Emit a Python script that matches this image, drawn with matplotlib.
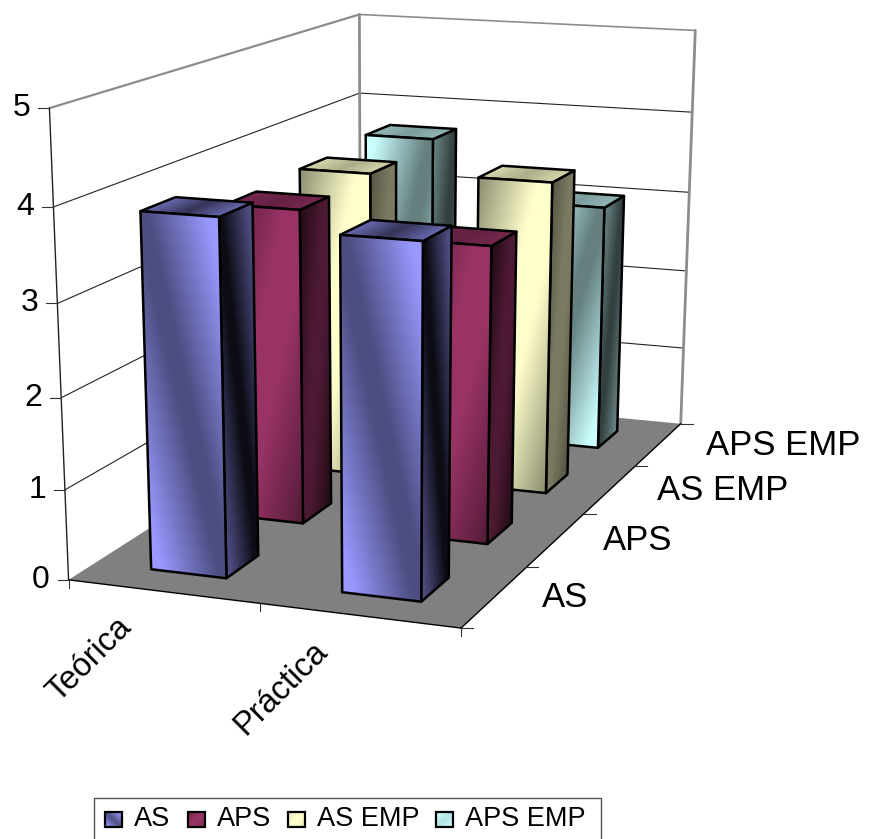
import numpy as np
import matplotlib
matplotlib.use("Agg")
import matplotlib.pyplot as plt
from matplotlib.colors import LinearSegmentedColormap, to_rgb
from matplotlib.patches import Polygon, Rectangle

plt.rcParams['font.family'] = ['Liberation Sans', 'DejaVu Sans']

# values per category, one list per series
categories = ['Teórica', 'Práctica']
series_names = ['AS', 'APS', 'AS EMP', 'APS EMP']
as_vals = [3.89, 3.8]
aps_vals = [3.59, 3.35]
as_emp_vals = [3.64, 3.68]
aps_emp_vals = [3.72, 3.02]
all_vals = [as_vals, aps_vals, as_emp_vals, aps_emp_vals]
value_ticks = [0, 1, 2, 3, 4, 5]

# series styling
light_cols = ['#9999FF', '#993366', '#FFFFCC', '#CCFFFF']
front_lo = [0.5, 0.55, 0.55, 0.5]
side_range = [(0.08, 0.50), (0.22, 0.50), (0.33, 0.48), (0.25, 0.50)]
top_range = [(0.35, 0.70), (0.66, 0.78), (0.68, 0.85), (0.62, 0.72)]
swatch_lo = [0.55, 0.75, 0.9, 0.9]

fig = plt.figure(figsize=(8.74, 8.39), dpi=100)
ax = fig.add_axes([0, 0, 1, 1])
ax.set_xlim(0, 874)
ax.set_ylim(839, 0)
ax.axis('off')

# camera fitted on the box corners: (u, v, w) in the unit cube -> pixels
box3d = [(0, 0, 0), (1, 0, 0), (1, 1, 0), (0, 1, 0), (0, 0, 1), (0, 1, 1), (1, 1, 1)]
box2d = [(69, 581), (461, 627), (681, 425), (360, 392), (49, 108), (360, 15), (695, 30)]
rows, rhs = [], []
for (a, b, c), (px, py) in zip(box3d, box2d):
    rows.append([a, b, c, 1, 0, 0, 0, 0, -px * a, -px * b, -px * c])
    rhs.append(px)
    rows.append([0, 0, 0, 0, a, b, c, 1, -py * a, -py * b, -py * c])
    rhs.append(py)
cam = np.linalg.lstsq(np.array(rows, float), np.array(rhs, float), rcond=None)[0]
cam = np.append(cam, 1.0).reshape(3, 4)


def proj(u, v, w):
    u, v, w = np.broadcast_arrays(np.asarray(u, float), np.asarray(v, float), np.asarray(w, float))
    pts = np.stack([u, v, w, np.ones_like(u)], axis=-1) @ cam.T
    return pts[..., 0] / pts[..., 2], pts[..., 1] / pts[..., 2]


def line3d(p, q, color='black', lw=0.8, z=1):
    xs, ys = proj([p[0], q[0]], [p[1], q[1]], [p[2], q[2]])
    ax.plot(xs, ys, color=color, lw=lw, zorder=z, solid_capstyle='round')


def shade(light, lo, hi):
    rgb = np.array(to_rgb(light))
    return LinearSegmentedColormap.from_list('c', [rgb * lo, rgb * hi])


def sheen(j, s, h):
    # each series has its own diagonal shading across a face
    if j == 0:
        return (np.abs(s + h - 1) - 0.08) * 1.3
    if j == 3:
        return (np.abs(s - h) - 0.08) * 1.3
    return (1 - np.abs(s - h)) * 1.25


def face(us, vs, ws, tvals, cmap, z):
    xs, ys = proj(us, vs, ws)
    ax.pcolormesh(xs, ys, np.clip(tvals, 0, 1), cmap=cmap, vmin=0, vmax=1, shading='gouraud', zorder=z)
    ring = np.array([[0, 0], [0, -1], [-1, -1], [-1, 0]])
    outline = [(xs[r, c], ys[r, c]) for r, c in ring]
    ax.add_patch(Polygon(outline, closed=True, fill=False, ec='black', lw=1.8, joinstyle='round', zorder=z + 0.1))


def bar(i, j, val, z):
    u0, u1 = (i + 0.3) / 2, (i + 0.7) / 2
    v0, v1 = (j + 0.3) / 4, (j + 0.7) / 4
    w = val / 5
    light = light_cols[j]
    s, h = np.meshgrid(np.linspace(0, 1, 25), np.linspace(0, 1, 25))
    ramp = sheen(j, s, h)
    # side face, top face, front face
    face(u1 + 0 * s, v0 + (v1 - v0) * s, w * h, ramp, shade(light, *side_range[j]), z)
    face(u0 + (u1 - u0) * s, v0 + (v1 - v0) * h, w + 0 * s, np.abs(2 * s - 1), shade(light, *top_range[j]), z + 0.2)
    face(u0 + (u1 - u0) * s, v0 + 0 * s, w * h, ramp, shade(light, front_lo[j], 1.0), z + 0.4)


grey = '#8c8c8c'
# floor
fx, fy = proj([0, 1, 1, 0], [0, 0, 1, 1], [0, 0, 0, 0])
ax.add_patch(Polygon(np.c_[fx, fy], closed=True, fc='#808080', ec='none', zorder=1))

# grid on the two walls and the box edges
for t in value_ticks[1:-1]:
    line3d((0, 0, t / 5), (0, 1, t / 5), lw=0.8, color='#222222')
    line3d((0, 1, t / 5), (1, 1, t / 5), lw=0.8, color='#222222')
line3d((0, 0, 1), (0, 1, 1), color=grey, lw=1.6, z=2)
line3d((0, 1, 1), (1, 1, 1), color=grey, lw=1.2, z=2)
line3d((0, 1, 0), (0, 1, 1), color=grey, lw=2.0, z=2)
line3d((1, 1, 0), (1, 1, 1), color=grey, lw=2.0, z=2)
line3d((0, 0, 0), (0, 0, 1), color='#222222', lw=1.0, z=2)
line3d((0, 0, 0), (1, 0, 0), lw=1.0, z=2)
line3d((1, 0, 0), (1, 1, 0), lw=1.0, z=2)

# value axis ticks and labels
for t in value_ticks:
    x, y = proj(0, 0, t / 5)
    ax.plot([x - 11, x], [y, y], color='#333333', lw=0.8, zorder=2)
    ax.text(x - 19, y, str(t), ha='right', va='center', fontsize=23, color='black')

# category ticks and labels
for k in range(3):
    x, y = proj(k / 2, 0, 0)
    ax.plot([x, x], [y, y + 8], color='#333333', lw=0.8, zorder=2)
for i, name in enumerate(categories):
    x, y = proj((i + 0.5) / 2, 0, 0)
    ax.text(x - 36, y + 31, name, rotation=45, rotation_mode='anchor', ha='right', va='center',
            fontsize=23.5, color='black')

# series ticks and labels
for k in range(5):
    x, y = proj(1, k / 4, 0)
    ax.plot([x, x + 12], [y, y], color='#333333', lw=0.8, zorder=2)
for j, name in enumerate(series_names):
    x, y = proj(1, (j + 0.5) / 4, 0)
    ax.text(x + 47, y + 1, name, ha='left', va='center', fontsize=25, color='black')

# bars, back to front
z = 3
for j in range(3, -1, -1):
    for i in range(2):
        bar(i, j, all_vals[j][i], z)
        z += 1

# legend box
ax.add_patch(Rectangle((94, 798), 507, 44, fc='white', ec='#555555', lw=1.0, zorder=50))
swatch_x = [105, 188, 288, 436]
text_x = [134, 217, 317, 465]
ss, hh = np.meshgrid(np.linspace(0, 1, 9), np.linspace(0, 1, 9))
for j, name in enumerate(series_names):
    xx = swatch_x[j] + 17 * ss
    yy = 827 - 15 * hh
    ax.pcolormesh(xx, yy, np.clip(sheen(j, ss, hh), 0, 1), cmap=shade(light_cols[j], swatch_lo[j], 1.0), vmin=0, vmax=1,
                  shading='gouraud', zorder=51)
    ax.add_patch(Rectangle((swatch_x[j], 812), 17, 15, fill=False, ec='black', lw=1.6, zorder=52))
    ax.text(text_x[j], 819, name, ha='left', va='center', fontsize=19.5, color='black', zorder=52)

ax.set_xlim(0, 874)
ax.set_ylim(839, 0)
fig.savefig('out.png', dpi=100)
